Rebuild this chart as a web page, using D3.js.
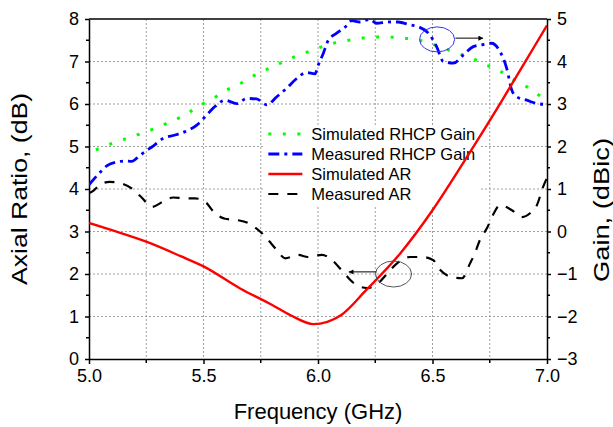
<!DOCTYPE html>
<meta charset="utf-8">
<style>
  body { margin: 0; background: #fff; }
  text { font-family: "Liberation Sans", Arial, sans-serif; fill: #000; }
  .grid line { stroke: #a0a0a0; stroke-width: 1; stroke-dasharray: 2,2; }
  .axis path, .axis line { stroke: #000; stroke-width: 1.5; }
  .axis text { font-size: 18px; }
</style>
<body>
<script src="https://d3js.org/d3.v7.min.js"></script>
<script>

// simulated axial ratio (dB)
var simArFreq = [5.0, 5.1, 5.25, 5.4, 5.5, 5.66, 5.8, 5.88, 5.98, 6.1, 6.21, 6.36, 6.5, 6.65, 6.8, 6.9, 7.0];
var simAr     = [3.2, 3.03, 2.76, 2.42, 2.18, 1.66, 1.27, 1.03, 0.82, 1.03, 1.62, 2.49, 3.5, 4.75, 6.05, 6.95, 7.85];

// measured axial ratio (dB)
var measArFreq = [5.0, 5.017, 5.048, 5.09, 5.127, 5.19, 5.23, 5.275, 5.323, 5.367, 5.42, 5.463, 5.507,
                  5.55, 5.594, 5.646, 5.694, 5.747, 5.782, 5.821, 5.856, 5.913, 5.956, 6.017, 6.061,
                  6.109, 6.153, 6.214, 6.258, 6.301, 6.345, 6.402, 6.454, 6.502, 6.533, 6.576, 6.629,
                  6.664, 6.686, 6.707, 6.738, 6.764, 6.795, 6.847, 6.891, 6.926, 6.956, 6.983, 7.0];
var measAr     = [3.9, 3.95, 4.1, 4.17, 4.15, 4.0, 3.8, 3.58, 3.7, 3.8, 3.78, 3.78, 3.7,
                  3.43, 3.3, 3.27, 3.2, 3.0, 2.8, 2.56, 2.37, 2.45, 2.4, 2.45, 2.33,
                  2.05, 1.8, 1.67, 1.76, 2.0, 2.25, 2.4, 2.4, 2.33, 2.1, 1.94, 1.9,
                  2.25, 2.5, 2.8, 3.08, 3.39, 3.62, 3.5, 3.34, 3.43, 3.62, 4.05, 4.26];

// simulated RHCP gain (dBic)
var simGainFreq = [5.03, 5.105, 5.17, 5.23, 5.296, 5.354, 5.42, 5.476, 5.536, 5.601, 5.667, 5.725, 5.79,
                   5.856, 5.914, 5.98, 6.038, 6.104, 6.16, 6.227, 6.285, 6.35, 6.41, 6.467, 6.54,
                   6.6, 6.664, 6.72, 6.787, 6.846, 6.91, 6.977, 7.0];
var simGain     = [1.92, 2.08, 2.2, 2.31, 2.44, 2.58, 2.74, 2.94, 3.11, 3.33, 3.5, 3.68, 3.85,
                   4.01, 4.15, 4.27, 4.39, 4.47, 4.52, 4.57, 4.58, 4.56, 4.53, 4.47, 4.33,
                   4.21, 4.1, 3.95, 3.8, 3.6, 3.41, 3.17, 3.1];

// measured RHCP gain (dBic)
var measGainFreq = [5.0, 5.048, 5.079, 5.127, 5.157, 5.188, 5.21, 5.245, 5.28, 5.323, 5.376, 5.42, 5.472,
                    5.507, 5.55, 5.594, 5.645, 5.689, 5.732, 5.776, 5.82, 5.863, 5.907, 5.95, 5.987,
                    6.0, 6.023, 6.045, 6.08, 6.125, 6.147, 6.183, 6.227, 6.256, 6.306, 6.35, 6.402,
                    6.437, 6.489, 6.518, 6.547, 6.591, 6.634, 6.678, 6.722, 6.758, 6.795, 6.824, 6.846,
                    6.868, 6.912, 6.956, 7.0];
var measGain     = [1.1, 1.39, 1.55, 1.64, 1.66, 1.65, 1.73, 1.88, 2.01, 2.19, 2.27, 2.35, 2.51,
                    2.7, 2.94, 3.09, 3.01, 3.13, 3.12, 2.98, 3.17, 3.37, 3.6, 3.74, 3.71,
                    3.9, 4.19, 4.5, 4.66, 4.84, 4.96, 4.93, 4.99, 4.9, 4.93, 4.93, 4.86,
                    4.82, 4.62, 4.35, 4.0, 3.96, 4.15, 4.35, 4.4, 4.43, 4.23, 3.84, 3.33,
                    3.17, 3.09, 3.01, 2.99];

var legendLabels = ["Simulated RHCP Gain", "Measured RHCP Gain", "Simulated AR", "Measured AR"];

var margin = {top: 19, right: 66, bottom: 68, left: 89},
    width = 613 - margin.left - margin.right,
    height = 427 - margin.top - margin.bottom;

var svg = d3.select("body").append("svg")
    .attr("width", 613)
    .attr("height", 427)
  .append("g")
    .attr("transform", "translate(" + margin.left + "," + margin.top + ")");

var x = d3.scaleLinear().domain([5, 7]).range([0, width]);
var yAr = d3.scaleLinear().domain([0, 8]).range([height, 0]);
var yGain = d3.scaleLinear().domain([-3, 5]).range([height, 0]);

// grid
var grid = svg.append("g").attr("class", "grid");
grid.selectAll(".gx")
    .data(d3.range(5.25, 7, 0.25))
  .enter().append("line")
    .attr("x1", function(d) { return x(d); })
    .attr("x2", function(d) { return x(d); })
    .attr("y1", 0).attr("y2", height);
grid.selectAll(".gy")
    .data(d3.range(1, 8))
  .enter().append("line")
    .attr("y1", function(d) { return yAr(d); })
    .attr("y2", function(d) { return yAr(d); })
    .attr("x1", 0).attr("x2", width);

// legend box (white background hides grid)
var legend = svg.append("g").attr("transform", "translate(" + x(5.77) + ",0)");
legend.append("rect")
    .attr("x", -2).attr("y", 106)
    .attr("width", 216).attr("height", 80)
    .attr("fill", "#fff");

// axes
function minorTicks(g, scale, vals, side, len) {
  g.selectAll(".minor").data(vals).enter().append("line")
    .attr("stroke", "#000").attr("stroke-width", 1.5)
    .each(function(d) {
      var s = d3.select(this);
      if (side === "bottom") s.attr("x1", scale(d)).attr("x2", scale(d)).attr("y1", 0).attr("y2", len);
      if (side === "left") s.attr("y1", scale(d)).attr("y2", scale(d)).attr("x1", 0).attr("x2", -len);
      if (side === "right") s.attr("y1", scale(d)).attr("y2", scale(d)).attr("x1", 0).attr("x2", len);
    });
}

var xAxis = svg.append("g").attr("class", "axis")
    .attr("transform", "translate(0," + height + ")")
    .call(d3.axisBottom(x).tickValues([5, 5.5, 6, 6.5, 7]).tickFormat(d3.format(".1f")).tickSize(5).tickPadding(5).tickSizeOuter(0));
minorTicks(xAxis, x, [5.25, 5.75, 6.25, 6.75], "bottom", 4);

var leftAxis = svg.append("g").attr("class", "axis")
    .call(d3.axisLeft(yAr).tickValues(d3.range(0, 9)).tickSize(4).tickPadding(6).tickSizeOuter(0));
minorTicks(leftAxis, yAr, d3.range(0.5, 8, 1), "left", 3);

var rightAxis = svg.append("g").attr("class", "axis")
    .attr("transform", "translate(" + width + ",0)")
    .call(d3.axisRight(yGain).tickValues(d3.range(-3, 6)).tickSize(4).tickPadding(6).tickSizeOuter(0));
minorTicks(rightAxis, yGain, d3.range(-2.5, 5, 1), "right", 3);

svg.append("line").attr("x1", 0).attr("x2", width).attr("y1", 0).attr("y2", 0)
    .attr("stroke", "#000").attr("stroke-width", 1.5);

// clip
svg.append("clipPath").attr("id", "clip").append("rect")
    .attr("x", 0).attr("y", 0).attr("width", width).attr("height", height);

var plot = svg.append("g").attr("clip-path", "url(#clip)");

function pairs(fs, vs) { return fs.map(function(f, i) { return [f, vs[i]]; }); }

var lineAr = d3.line().x(function(d) { return x(d[0]); }).y(function(d) { return yAr(d[1]); }).curve(d3.curveMonotoneX);
var lineGain = d3.line().x(function(d) { return x(d[0]); }).y(function(d) { return yGain(d[1]); }).curve(d3.curveMonotoneX);

plot.append("path").datum(pairs(measArFreq, measAr))
    .attr("d", lineAr).attr("fill", "none")
    .attr("stroke", "#000").attr("stroke-width", 2.2).attr("stroke-dasharray", "10,9");

plot.append("path").datum(pairs(simGainFreq, simGain))
    .attr("d", lineGain).attr("fill", "none")
    .attr("stroke", "#00ff00").attr("stroke-width", 3).attr("stroke-dasharray", "3,11.5");

plot.append("path").datum(pairs(measGainFreq, measGain))
    .attr("d", lineGain).attr("fill", "none")
    .attr("stroke", "#0000ff").attr("stroke-width", 2.8).attr("stroke-dasharray", "11,5,3,5");

plot.append("path").datum(pairs(simArFreq, simAr))
    .attr("d", lineAr).attr("fill", "none")
    .attr("stroke", "#ff0000").attr("stroke-width", 2.4);

// legend entries
var legendStyles = [
  {stroke: "#00ff00", w: 3, dash: "3,11.5"},
  {stroke: "#0000ff", w: 2.8, dash: "11,5,3,5"},
  {stroke: "#ff0000", w: 2.4, dash: null},
  {stroke: "#000", w: 2.2, dash: "10,9"}
];
var rows = legend.selectAll(".row").data(legendLabels).enter().append("g")
    .attr("transform", function(d, i) { return "translate(0," + (115 + i * 20) + ")"; });
rows.append("line")
    .attr("x1", 3).attr("x2", 37).attr("y1", 0).attr("y2", 0)
    .attr("stroke", function(d, i) { return legendStyles[i].stroke; })
    .attr("stroke-width", function(d, i) { return legendStyles[i].w; })
    .attr("stroke-dasharray", function(d, i) { return legendStyles[i].dash; });
rows.append("text")
    .attr("x", 46).attr("dy", "0.35em")
    .style("font-size", "16.5px")
    .text(function(d) { return d; });

// annotations
var ann = svg.append("g");
ann.append("defs").append("marker")
    .attr("id", "arrow").attr("viewBox", "0 0 10 10")
    .attr("refX", 9).attr("refY", 5)
    .attr("markerWidth", 7).attr("markerHeight", 5).attr("orient", "auto")
  .append("path").attr("d", "M0,0 L10,5 L0,10 z").attr("fill", "#000");

ann.append("ellipse")
    .attr("cx", x(6.52)).attr("cy", yGain(4.52))
    .attr("rx", 17.5).attr("ry", 12.5)
    .attr("fill", "none").attr("stroke", "#3333ff").attr("stroke-width", 1);
ann.append("line")
    .attr("x1", x(6.6)).attr("x2", x(6.72)).attr("y1", yGain(4.55)).attr("y2", yGain(4.55))
    .attr("stroke", "#000").attr("stroke-width", 1).attr("marker-end", "url(#arrow)");

ann.append("ellipse")
    .attr("cx", x(6.33)).attr("cy", yAr(2.0))
    .attr("rx", 18).attr("ry", 13)
    .attr("fill", "none").attr("stroke", "#555").attr("stroke-width", 1);
ann.append("line")
    .attr("x1", x(6.253)).attr("x2", x(6.135)).attr("y1", yAr(2.05)).attr("y2", yAr(2.05))
    .attr("stroke", "#000").attr("stroke-width", 1).attr("marker-end", "url(#arrow)");

// axis titles
svg.append("text")
    .attr("x", width / 2).attr("y", height + 60)
    .attr("text-anchor", "middle").style("font-size", "22px")
    .text("Frequency (GHz)");
svg.append("text")
    .attr("transform", "translate(" + (-62) + "," + (height / 2) + ") rotate(-90)")
    .attr("text-anchor", "middle").style("font-size", "22px")
    .attr("textLength", 192).attr("lengthAdjust", "spacingAndGlyphs")
    .text("Axial Ratio, (dB)");
svg.append("text")
    .attr("transform", "translate(" + (width + 62) + "," + (height / 2 + 21) + ") rotate(-90)")
    .attr("text-anchor", "middle").style("font-size", "22px")
    .attr("textLength", 144).attr("lengthAdjust", "spacingAndGlyphs")
    .text("Gain, (dBic)");

</script>
</body>
</html>
